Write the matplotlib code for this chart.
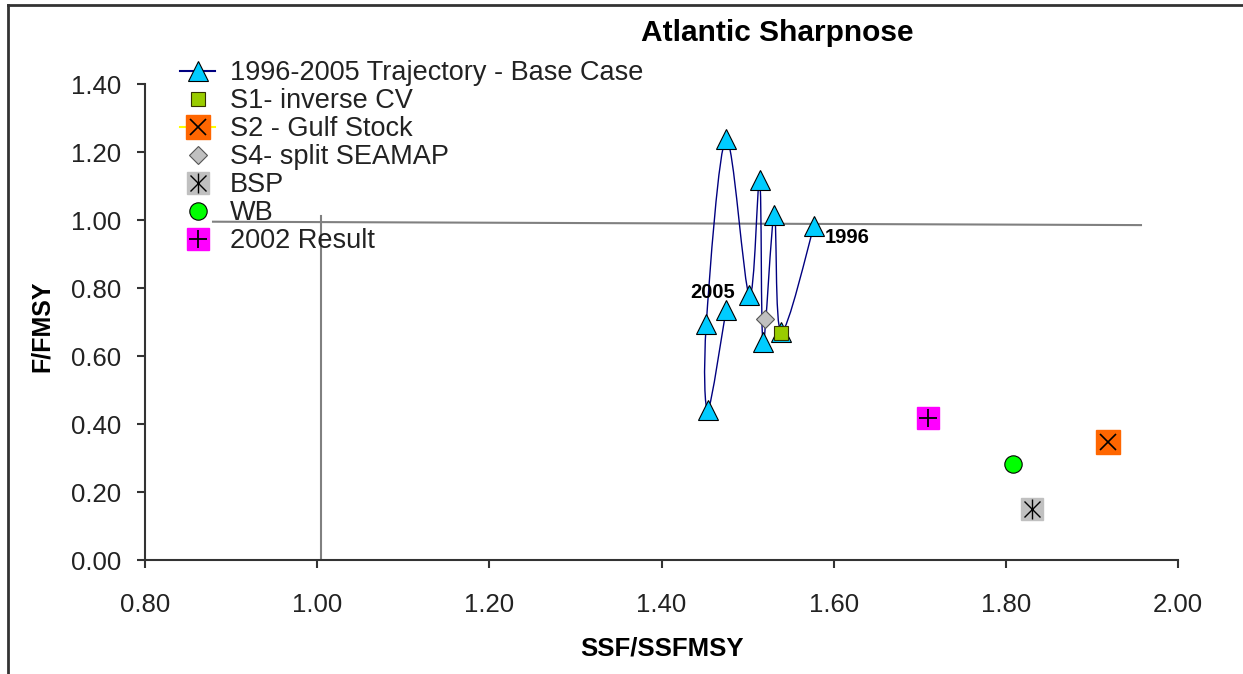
import numpy as np
import matplotlib
matplotlib.use("Agg")
import matplotlib.pyplot as plt
from matplotlib.path import Path
from matplotlib.patches import PathPatch
from matplotlib.lines import Line2D
from matplotlib.legend_handler import HandlerTuple

plt.rcParams['font.family'] = ['Liberation Sans', 'DejaVu Sans']

# trajectory 1996..2005 (SSF/SSFMSY, F/FMSY)
years = [1996, 1997, 1998, 1999, 2000, 2001, 2002, 2003, 2004, 2005]
traj_x = [1.577, 1.539, 1.531, 1.518, 1.514, 1.502, 1.475, 1.452, 1.454, 1.475]
traj_y = [0.981, 0.671, 1.015, 0.640, 1.118, 0.778, 1.237, 0.694, 0.442, 0.735]

# sensitivity runs
s1_x, s1_y = [1.539], [0.667]
s2_x, s2_y = [1.919], [0.347]
s4_x, s4_y = [1.520], [0.708]
bsp_x, bsp_y = [1.830], [0.150]
wb_x, wb_y = [1.808], [0.282]
r2002_x, r2002_y = [1.710], [0.418]

# reference lines
href_x, href_y = [0.879, 1.957], [0.995, 0.985]
vref_x, vref_y = [1.004, 1.004], [0.0, 1.012]

fig = plt.figure(figsize=(12.43, 6.74), dpi=100)
ax = fig.add_axes([145/1243, 1-560/674, (1178-145)/1243, (560-84)/674])

ax.plot(href_x, href_y, color='#808080', lw=1.5, zorder=1)
ax.plot(vref_x, vref_y, color='#808080', lw=1.5, zorder=1)


def smooth_path(xs, ys, t=1/6):
    # excel style smoothed line (catmull-rom as bezier)
    pts = np.column_stack([xs, ys])
    verts = [pts[0]]
    codes = [Path.MOVETO]
    n = len(pts)
    for i in range(n - 1):
        p0 = pts[i - 1] if i > 0 else pts[i]
        p1, p2 = pts[i], pts[i + 1]
        p3 = pts[i + 2] if i + 2 < n else p2
        verts += [p1 + (p2 - p0) * t, p2 - (p3 - p1) * t, p2]
        codes += [Path.CURVE4] * 3
    return Path(verts, codes)


ax.add_patch(PathPatch(smooth_path(traj_x, traj_y), fill=False,
                       edgecolor='#000080', lw=1.0, zorder=2))
ax.plot(traj_x, traj_y, ls='none', marker='^', ms=14, mfc='#00CCFF',
        mec='#000000', mew=0.8, zorder=3)

ax.plot(s4_x, s4_y, ls='none', marker='D', ms=9, mfc='#C0C0C0',
        mec='#555555', mew=0.8, zorder=4)
ax.plot(s1_x, s1_y, ls='none', marker='s', ms=9.5, mfc='#99CC00',
        mec='#333300', mew=0.8, zorder=5)

ax.plot(r2002_x, r2002_y, ls='none', marker='s', ms=16, mfc='#FF00FF',
        mec='#FF00FF', zorder=4)
ax.plot(r2002_x, r2002_y, ls='none', marker='+', ms=13, mec='#000000',
        mew=1.3, zorder=5)
ax.plot(s2_x, s2_y, ls='none', marker='s', ms=17, mfc='#FF6600',
        mec='#FF6600', zorder=4)
ax.plot(s2_x, s2_y, ls='none', marker='x', ms=12, mec='#000000',
        mew=1.2, zorder=5)
ax.plot(wb_x, wb_y, ls='none', marker='o', ms=12.5, mfc='#00FF00',
        mec='#000000', mew=0.8, zorder=4)
ax.plot(bsp_x, bsp_y, ls='none', marker='s', ms=16, mfc='#C0C0C0',
        mec='#C0C0C0', zorder=4)
ax.plot(bsp_x, bsp_y, ls='none', marker='x', ms=11, mec='#000000',
        mew=1.0, zorder=5)
ax.plot(bsp_x, bsp_y, ls='none', marker='|', ms=14, mec='#000000',
        mew=1.0, zorder=5)

ax.text(1.590, 0.95, str(years[0]), fontsize=14.5, fontweight='bold',
        ha='left', va='center', zorder=6)
ax.text(1.459, 0.788, str(years[-1]), fontsize=14.5, fontweight='bold',
        ha='center', va='center', zorder=6)

ax.set_xlim(0.8, 2.0)
ax.set_ylim(0.0, 1.4)
ax.set_xticks(np.arange(0.8, 2.001, 0.2))
ax.set_yticks(np.arange(0.0, 1.401, 0.2))
ax.xaxis.set_major_formatter(matplotlib.ticker.FormatStrFormatter('%.2f'))
ax.yaxis.set_major_formatter(matplotlib.ticker.FormatStrFormatter('%.2f'))
for s in ['top', 'right']:
    ax.spines[s].set_visible(False)
for s in ['left', 'bottom']:
    ax.spines[s].set_color('#333333')
    ax.spines[s].set_linewidth(1.5)
ax.tick_params(axis='both', direction='out', length=6, width=1.5,
               color='#333333', labelsize=18.5, labelcolor='#222222')
ax.tick_params(axis='x', pad=18)
ax.tick_params(axis='y', pad=11)

fig.text(662/1243, 1-648/674, 'SSF/SSFMSY', fontsize=18.5, fontweight='bold',
         ha='center', va='center')
fig.text(42/1243, 1-326/674, 'F/FMSY', fontsize=18, fontweight='bold',
         ha='center', va='center', rotation=90)
fig.text(777/1243, 1-33/674, 'Atlantic Sharpnose', fontsize=21.5,
         fontweight='bold', ha='center', va='center')

# legend
h_traj = Line2D([], [], color='#000080', lw=1.5, marker='^', ms=14,
                mfc='#00CCFF', mec='#000000', mew=0.8)
h_s1 = Line2D([], [], ls='none', marker='s', ms=9.5, mfc='#99CC00',
              mec='#333300', mew=0.8)
h_s2 = (Line2D([], [], color='#FFFF00', lw=1.5),
        Line2D([], [], ls='none', marker='s', ms=17, mfc='#FF6600', mec='#FF6600'),
        Line2D([], [], ls='none', marker='x', ms=12, mec='#000000', mew=1.2))
h_s4 = Line2D([], [], ls='none', marker='D', ms=9, mfc='#C0C0C0',
              mec='#555555', mew=0.8)
h_bsp = (Line2D([], [], ls='none', marker='s', ms=16, mfc='#C0C0C0', mec='#C0C0C0'),
         Line2D([], [], ls='none', marker='x', ms=11, mec='#000000', mew=1.0),
         Line2D([], [], ls='none', marker='|', ms=14, mec='#000000', mew=1.0))
h_wb = Line2D([], [], ls='none', marker='o', ms=12.5, mfc='#00FF00',
              mec='#000000', mew=0.8)
h_r = (Line2D([], [], ls='none', marker='s', ms=16, mfc='#FF00FF', mec='#FF00FF'),
       Line2D([], [], ls='none', marker='+', ms=13, mec='#000000', mew=1.3))
labels = ['1996-2005 Trajectory - Base Case', 'S1- inverse CV',
          'S2 - Gulf Stock', 'S4- split SEAMAP', 'BSP', 'WB', '2002 Result']
leg = fig.legend([h_traj, h_s1, h_s2, h_s4, h_bsp, h_wb, h_r], labels,
                 handler_map={tuple: HandlerTuple(ndivide=1)},
                 loc='upper left', bbox_to_anchor=(180/1243, 1-60/674),
                 frameon=False, fontsize=19.5, borderpad=0, borderaxespad=0,
                 handlelength=1.3, handletextpad=0.55, labelspacing=0.075)
for t in leg.get_texts():
    t.set_color('#222222')

# outer frame
fig.add_artist(Line2D([8/1243, 8/1243], [0, 1-5/674], color='#333333', lw=2))
fig.add_artist(Line2D([8/1243, 1], [1-5/674, 1-5/674], color='#333333', lw=2))

fig.savefig('out.png', dpi=100)
